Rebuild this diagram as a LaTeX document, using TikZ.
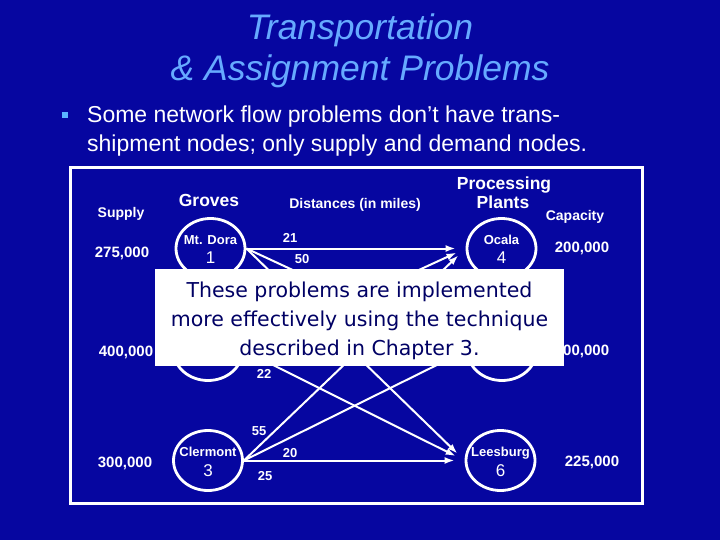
\documentclass[tikz,border=0pt]{standalone}
\usepackage{fontspec}
\setmainfont{Liberation Sans}
\newfontfamily\boxfont{DejaVu Sans}
\usetikzlibrary{arrows.meta,calc,shapes.geometric}
\definecolor{bg}{RGB}{6,6,160}
\definecolor{titleblue}{RGB}{102,170,255}
\definecolor{bulletblue}{RGB}{90,180,255}
\definecolor{boxtext}{RGB}{0,0,100}
\newcommand\setfs[1]{\fontsize{#1}{#1}\selectfont}
\begin{document}
\begin{tikzpicture}[x=1pt,y=-1pt,
  lbl/.style={text=white,font=\bfseries\setfs{14},inner sep=0pt,anchor=base},
  big/.style={text=white,font=\bfseries\setfs{17.5},inner sep=0pt,anchor=base},
  site/.style={ellipse,draw=white,line width=2.8pt,minimum width=69pt,minimum height=60pt,inner sep=0pt},
  nm/.style={text=white,font=\bfseries\setfs{13},inner sep=0pt,anchor=base},
  num/.style={text=white,font=\setfs{17},inner sep=0pt,anchor=base},
  flow/.style={draw=white,line width=2pt,-{Latex[length=10pt,width=7pt]},shorten >=10pt},
  dist/.style={text=white,font=\bfseries\setfs{13},inner sep=0pt,anchor=base}]
\fill[bg] (0,0) rectangle (720,540);
\useasboundingbox (0,0) rectangle (720,540);
% title
\node[anchor=base,inner sep=0pt,text=titleblue,font=\itshape\setfs{35.5}] (t1) at (360,40) {Transportation};
\node[anchor=base,inner sep=0pt,text=titleblue,font=\itshape\setfs{35.5}] (t2) at (360,81) {\& Assignment Problems};
% bullet
\fill[bulletblue] (62,112) rectangle (68,118);
\node[anchor=base west,inner sep=0pt,text=white,font=\setfs{23}] (b1) at (87,123) {Some network flow problems don’t have trans-};
\node[anchor=base west,inner sep=0pt,text=white,font=\setfs{23}] (b2) at (87,152) {shipment nodes; only supply and demand nodes.};
% frame
\draw[white,line width=3pt] (70,168) rectangle (642,503);
% headings
\node[lbl] (hs) at (121,218) {Supply};
\node[big] (hg) at (209,207) {Groves};
\node[lbl] (hd) at (355,209) {Distances (in miles)};
\node[big] (hp1) at (504,190) {Processing};
\node[big] (hp2) at (503,208) {Plants};
\node[lbl] (hc) at (575,221) {Capacity};
% supplies / capacities
\node[lbl,font=\bfseries\setfs{15}] (s1) at (122,257) {275,000};
\node[lbl,font=\bfseries\setfs{15}] (s2) at (126,356) {400,000};
\node[lbl,font=\bfseries\setfs{15}] (s3) at (125,467) {300,000};
\node[lbl,font=\bfseries\setfs{15}] (c4) at (582,252) {200,000};
\node[lbl,font=\bfseries\setfs{15}] (c5) at (582,355) {600,000};
\node[lbl,font=\bfseries\setfs{15}] (c6) at (592,466) {225,000};
% sites
\node[site] (n1) at (210.5,248.5) {};
\node[site] (n2) at (208,350.5) {};
\node[site] (n3) at (208,460.5) {};
\node[site] (n4) at (501.5,248.5) {};
\node[site] (n5) at (502,350.5) {};
\node[site] (n6) at (500.5,460.5) {};
\node[nm] (m1) at ($(n1.center)+(0,-4.5)$) {Mt. Dora};
\node[num] (k1) at ($(n1.center)+(0,14.5)$) {1};
\node[nm] (m3) at ($(n3.center)+(0,-4.5)$) {Clermont};
\node[num] (k3) at ($(n3.center)+(0,15.5)$) {3};
\node[nm] (m4) at ($(n4.center)+(0,-4)$) {Ocala};
\node[num] (k4) at ($(n4.center)+(0,14.5)$) {4};
\node[nm] (m6) at ($(n6.center)+(0,-4.5)$) {Leesburg};
\node[num] (k6) at ($(n6.center)+(0,15.5)$) {6};
% flows
\draw[flow] (n1.east) -- (n4.west);
\draw[flow] (n1.east) -- (n5.west);
\draw[flow] (n1.east) -- (n6.west);
\draw[flow] (n2.east) -- (n4.west);
\draw[flow] (n2.east) -- (n5.west);
\draw[flow] (n2.east) -- (n6.west);
\draw[flow] (n3.east) -- (n4.west);
\draw[flow] (n3.east) -- (n5.west);
\draw[flow] (n3.east) -- (n6.west);
% distances
\node[dist] (d14) at (290,243) {21};
\node[dist] (d15) at (302,263) {50};
\node[dist] (d26) at (264,378) {22};
\node[dist] (d34) at (259,435) {55};
\node[dist] (d35) at (290,457) {20};
\node[dist] (d36) at (265,480) {25};
% note box
\node[fill=white,minimum width=409pt,minimum height=97pt,inner sep=0pt] (note) at (359.5,317.5) {};
\node[anchor=base,inner sep=0pt,text=boxtext,font=\boxfont\setfs{20.5}] (l1) at (359.5,297) {These problems are implemented};
\node[anchor=base,inner sep=0pt,text=boxtext,font=\boxfont\setfs{20.5}] (l2) at (359.5,326) {more effectively using the technique};
\node[anchor=base,inner sep=0pt,text=boxtext,font=\boxfont\setfs{20.5}] (l3) at (359.5,355) {described in Chapter 3.};
\end{tikzpicture}
\end{document}
